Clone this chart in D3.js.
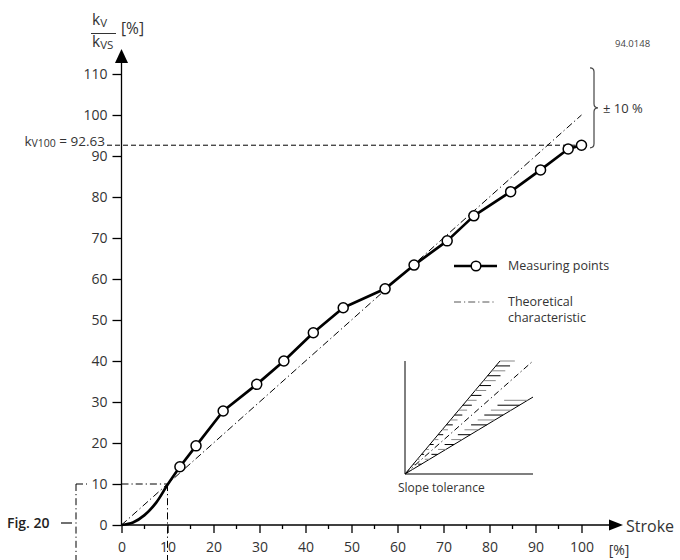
<!DOCTYPE html>
<html>
<head>
<meta charset="utf-8">
<script src="https://cdn.jsdelivr.net/npm/d3@7"></script>
<style>
  body { margin: 0; background: #fff; }
  svg { font-family: "Open Sans", "Noto Sans", sans-serif; }
  .axis text { fill: #333; font-size: 14px; font-family: "Open Sans", "Noto Sans", sans-serif; }
  .axis line { stroke: #000; stroke-width: 1.3; }
  .lbl { fill: #333; }
</style>
</head>
<body>
<svg id="chart" width="680" height="560"></svg>
<script>
// measured points (stroke %, kv/kvs %)
var strokePct = [12.7, 16.2, 22.1, 29.4, 35.3, 41.7, 48.2, 57.3, 63.6, 70.8, 76.6, 84.6, 91.1, 97.1, 100];
var kvRatio = [14.2, 19.3, 27.8, 34.3, 40.0, 46.9, 53.0, 57.6, 63.4, 69.3, 75.4, 81.3, 86.6, 91.7, 92.63];
// curved start of the measured characteristic
var startStroke = [0, 2.5, 5, 7.5, 10, 12.7];
var startKv = [0, 0.6, 2.4, 5.4, 9.8, 14.2];
// theoretical characteristic
var theoryStroke = [0, 100];
var theoryKv = [0, 100];
var kv100 = 92.63;
var toleranceBand = [92, 111.5];
var xTicks = [0, 10, 20, 30, 40, 50, 60, 70, 80, 90, 100];
var xMinorTicks = [5, 15, 25, 35, 45, 55, 65, 75, 85, 95];
var yTicks = [0, 10, 20, 30, 40, 50, 60, 70, 80, 90, 100, 110];
// slope tolerance sketch: end points of the lines (fraction of box)
var insetNames = ["upper", "centre", "lower"];
var insetEndX = [0.742, 1, 1];
var insetEndY = [1, 1, 0.681];

var svg = d3.select("#chart");
var x = d3.scaleLinear().domain([0, 100]).range([121.5, 581.5]);
var y = d3.scaleLinear().domain([0, 110]).range([525, 74]);
var dashDot = "7,3,1.2,3";

// theoretical line
svg.append("path")
  .datum(d3.zip(theoryStroke, theoryKv))
  .attr("fill", "none").attr("stroke", "#000").attr("stroke-width", 1)
  .attr("stroke-dasharray", dashDot)
  .attr("d", d3.line().x(function(d) { return x(d[0]); }).y(function(d) { return y(d[1]); }));

// 10 % construction lines
svg.append("line").attr("x1", 76).attr("x2", 87).attr("y1", y(10)).attr("y2", y(10))
  .attr("stroke", "#000").attr("stroke-dasharray", dashDot);
svg.append("line").attr("x1", x(0)).attr("x2", x(10)).attr("y1", y(10)).attr("y2", y(10))
  .attr("stroke", "#000").attr("stroke-dasharray", dashDot);
svg.append("line").attr("x1", x(10)).attr("x2", x(10)).attr("y1", y(10)).attr("y2", 560)
  .attr("stroke", "#000").attr("stroke-dasharray", dashDot);
svg.append("line").attr("x1", 76).attr("x2", 76).attr("y1", y(10)).attr("y2", 560)
  .attr("stroke", "#000").attr("stroke-dasharray", dashDot);

// kv100 dashed line
svg.append("line").attr("x1", 107).attr("x2", x(100) - 6).attr("y1", y(kv100)).attr("y2", y(kv100))
  .attr("stroke", "#000").attr("stroke-width", 1).attr("stroke-dasharray", "5,3");

// axes
var xAxis = svg.append("g").attr("class", "axis")
  .attr("transform", "translate(0," + y(0) + ")")
  .call(d3.axisBottom(x).tickValues(xTicks).tickSize(8).tickPadding(9));
xAxis.select(".domain").remove();
xAxis.selectAll(".minor").data(xMinorTicks).enter().append("line")
  .attr("x1", function(d) { return x(d); }).attr("x2", function(d) { return x(d); })
  .attr("y1", 0).attr("y2", 4);
xAxis.append("line").attr("x1", x(0)).attr("x2", 612).attr("y1", 0).attr("y2", 0);
xAxis.append("path").attr("d", "M609,-5.5L623,0L609,5.5Z").attr("fill", "#000");

var yAxis = svg.append("g").attr("class", "axis")
  .attr("transform", "translate(" + x(0) + ",0)")
  .call(d3.axisLeft(y).tickValues(yTicks).tickSize(9).tickPadding(5));
yAxis.select(".domain").remove();
yAxis.append("line").attr("x1", 0).attr("x2", 0).attr("y1", y(0)).attr("y2", 62);
yAxis.append("path").attr("d", "M-6.5,63L0,49L6.5,63Z").attr("fill", "#000");

// measured characteristic
svg.append("path")
  .datum(d3.zip(startStroke, startKv))
  .attr("fill", "none").attr("stroke", "#000").attr("stroke-width", 2.7)
  .attr("d", d3.line().curve(d3.curveCatmullRom)
    .x(function(d) { return x(d[0]); }).y(function(d) { return y(d[1]); }));
svg.append("path")
  .datum(d3.zip(strokePct, kvRatio))
  .attr("fill", "none").attr("stroke", "#000").attr("stroke-width", 2.7)
  .attr("stroke-linejoin", "round")
  .attr("d", d3.line().x(function(d) { return x(d[0]); }).y(function(d) { return y(d[1]); }));
svg.selectAll(".pt").data(d3.zip(strokePct, kvRatio)).enter().append("circle")
  .attr("class", "pt")
  .attr("cx", function(d) { return x(d[0]); })
  .attr("cy", function(d) { return y(d[1]); })
  .attr("r", 5).attr("fill", "#fff").attr("stroke", "#000").attr("stroke-width", 1.5);

// y axis title kv / kvs [%]
var yt = svg.append("g").attr("class", "lbl");
var num = yt.append("text").attr("x", 92).attr("y", 25).attr("font-size", 15.5).attr("fill", "#333");
num.append("tspan").text("k");
num.append("tspan").attr("font-size", 11.5).attr("dy", 2).text("V");
yt.append("line").attr("x1", 91).attr("x2", 116).attr("y1", 33.5).attr("y2", 33.5)
  .attr("stroke", "#333").attr("stroke-width", 1);
var den = yt.append("text").attr("x", 92).attr("y", 47).attr("font-size", 15.5).attr("fill", "#333");
den.append("tspan").text("k");
den.append("tspan").attr("font-size", 11.5).attr("dy", 2).text("VS");
yt.append("text").attr("x", 121).attr("y", 34).attr("font-size", 15.5).attr("fill", "#333").text("[%]");

// kv100 label
var kl = svg.append("text").attr("x", 105).attr("y", y(kv100) + 0.5).attr("text-anchor", "end")
  .attr("font-size", 13.5).attr("fill", "#333");
kl.append("tspan").text("k");
kl.append("tspan").attr("font-size", 10.5).attr("dy", 1.5).text("V100");
kl.append("tspan").attr("dy", -1.5).text(" = 92.63");

// x axis title
svg.append("text").attr("x", 626).attr("y", 532).attr("font-size", 16).attr("fill", "#333").text("Stroke");
svg.append("text").attr("x", 619).attr("y", y(0) + 30).attr("text-anchor", "middle")
  .attr("font-size", 14).attr("fill", "#333").text("[%]");

// figure reference
svg.append("text").attr("x", 7).attr("y", 528).attr("font-size", 14).attr("font-weight", 600)
  .attr("fill", "#222").text("Fig. 20");
svg.append("line").attr("x1", 61).attr("x2", 72).attr("y1", 523).attr("y2", 523)
  .attr("stroke", "#222").attr("stroke-width", 1.3);
svg.append("text").attr("x", 615).attr("y", 47).attr("font-size", 9.5).attr("fill", "#444").text("94.0148");

// tolerance brace
var bt = y(toleranceBand[1]), bb = y(toleranceBand[0]), bm = (bt + bb) / 2, bx = 590;
svg.append("path")
  .attr("d", "M" + bx + "," + bt + "Q" + (bx + 4) + "," + bt + " " + (bx + 4) + "," + (bt + 4) +
    "L" + (bx + 4) + "," + (bm - 4) + "Q" + (bx + 4) + "," + bm + " " + (bx + 8) + "," + bm +
    "Q" + (bx + 4) + "," + bm + " " + (bx + 4) + "," + (bm + 4) +
    "L" + (bx + 4) + "," + (bb - 4) + "Q" + (bx + 4) + "," + bb + " " + bx + "," + bb)
  .attr("fill", "none").attr("stroke", "#444").attr("stroke-width", 1.2);
svg.append("text").attr("x", 603).attr("y", bm + 5).attr("font-size", 13).attr("fill", "#333").text("± 10 %");

// legend
var lg = svg.append("g");
lg.append("line").attr("x1", 454).attr("x2", 497).attr("y1", 266).attr("y2", 266)
  .attr("stroke", "#000").attr("stroke-width", 2.7);
lg.append("circle").attr("cx", 476).attr("cy", 266).attr("r", 4.8)
  .attr("fill", "#fff").attr("stroke", "#000").attr("stroke-width", 1.5);
lg.append("text").attr("x", 508).attr("y", 270).attr("font-size", 12.5).attr("fill", "#333").text("Measuring points");
lg.append("line").attr("x1", 454).attr("x2", 494).attr("y1", 302).attr("y2", 302)
  .attr("stroke", "#555").attr("stroke-width", 1).attr("stroke-dasharray", dashDot);
lg.append("text").attr("x", 508).attr("y", 306).attr("font-size", 12.5).attr("fill", "#333").text("Theoretical");
lg.append("text").attr("x", 508).attr("y", 322).attr("font-size", 12.5).attr("fill", "#333").text("characteristic");

// slope tolerance sketch
var ix = d3.scaleLinear().domain([0, 1]).range([405, 533]);
var iy = d3.scaleLinear().domain([0, 1]).range([474, 361]);
var inset = svg.append("g");
inset.append("line").attr("x1", ix(0)).attr("x2", ix(0)).attr("y1", iy(0)).attr("y2", iy(1.0))
  .attr("stroke", "#000").attr("stroke-width", 1);
inset.append("line").attr("x1", ix(0)).attr("x2", ix(1)).attr("y1", iy(0)).attr("y2", iy(0))
  .attr("stroke", "#555").attr("stroke-width", 1.5);
insetNames.forEach(function(n, i) {
  inset.append("line").attr("x1", ix(0)).attr("y1", iy(0))
    .attr("x2", ix(insetEndX[i])).attr("y2", iy(insetEndY[i]))
    .attr("stroke", "#000").attr("stroke-width", 1)
    .attr("stroke-dasharray", n === "centre" ? "6,3,1.2,3" : null);
});
function xAt(i, t) { return insetEndX[i] * t / insetEndY[i]; }
var hatchRows = d3.range(1, 24).map(function(k) { return k / 23; });
hatchRows.forEach(function(t, k) {
  var c = k % 2 ? "#000" : "#888";
  var xu = xAt(0, t), xc = xAt(1, t);
  inset.append("line").attr("x1", ix(xu)).attr("x2", ix(xu + (xc - xu) * 0.45))
    .attr("y1", iy(t)).attr("y2", iy(t)).attr("stroke", c).attr("stroke-width", 1);
  if (t <= insetEndY[2]) {
    var xl = xAt(2, t);
    inset.append("line").attr("x1", ix(xl)).attr("x2", ix(xl - (xl - xc) * 0.6))
      .attr("y1", iy(t)).attr("y2", iy(t)).attr("stroke", c).attr("stroke-width", 1);
  }
});
inset.append("text").attr("x", 398).attr("y", 492).attr("font-size", 12).attr("fill", "#333").text("Slope tolerance");
</script>
</body>
</html>
